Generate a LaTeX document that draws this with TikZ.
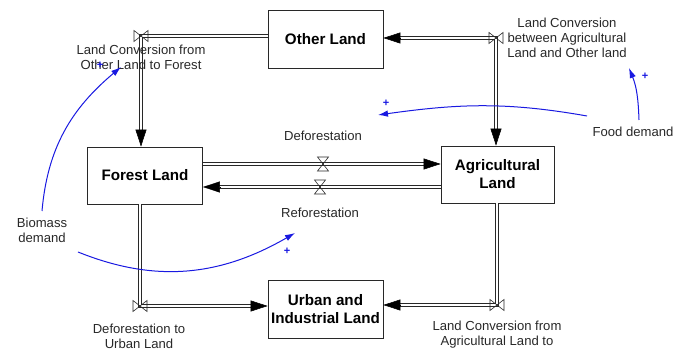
\documentclass[tikz,border=0pt]{standalone}
\usepackage{fontspec}
\setmainfont{Liberation Sans}
\usetikzlibrary{arrows.meta,calc}
\definecolor{cblue}{RGB}{25,25,225}
\definecolor{ink}{RGB}{40,40,40}
\newcommand\flowtip[2]{\draw[tipst] ($(#2)!17pt!(#1)$) -- (#2);}
\begin{document}
\begin{tikzpicture}[x=1pt,y=1pt,
  box/.style={draw=ink, line width=0.8pt, minimum width=115pt, minimum height=58pt, inner sep=0pt, align=center, font=\fontsize{15.2}{18}\selectfont\bfseries},
  lbl/.style={align=center, text=ink, inner sep=0pt, font=\fontsize{13.1}{15}\selectfont},
  pipe/.style={draw=ink, line width=0.65pt, double=white, double distance=2.6pt},
  tipst/.style={draw=black, fill=black, line width=0.5pt, -{Triangle[length=17pt,width=11pt]}},
  valvest/.style={draw=ink, line width=0.6pt},
  causal/.style={draw=cblue, line width=1pt, -{Latex[length=10pt,width=6.5pt]}},
  pol/.style={text=cblue, inner sep=0pt, font=\fontsize{11}{11}\selectfont\bfseries},
  bowtie/.pic={\draw[valvest] (-7,-5.5) -- (7,5.5) -- (7,-5.5) -- (-7,5.5) -- cycle;},
  hourglass/.pic={\draw[valvest] (-5.5,7) -- (5.5,7) -- (-5.5,-7) -- (5.5,-7) -- cycle;}
]
\useasboundingbox (0,0) rectangle (690,352);

% stocks
\node[box] (OL) at (325.5,313) {Other Land};
\node[box, minimum height=57pt] (FL) at (145,176.5) {Forest Land};
\node[box, minimum width=113pt, minimum height=57pt] (AL) at (497.5,177.5) {Agricultural\\Land};
\node[box] (UL) at (325.5,43) {Urban and\\Industrial Land};

% valves
\coordinate (vA) at (141,316);
\coordinate (vB) at (496,314);
\coordinate (vC) at (323,188);
\coordinate (vD) at (320,165);
\coordinate (vE) at (140,46);
\coordinate (vF) at (497,47);

% pipe end points
\coordinate (sA) at (vA -| OL.west);
\coordinate (tA) at (vA |- FL.north);
\coordinate (sB) at (vB -| OL.east);
\coordinate (tB) at (vB |- AL.north);
\coordinate (sC) at (vC -| FL.east);
\coordinate (tC) at (vC -| AL.west);
\coordinate (sD) at (vD -| AL.west);
\coordinate (tD) at (vD -| FL.east);
\coordinate (sE) at (vE |- FL.south);
\coordinate (tE) at (vE -| UL.west);
\coordinate (sF) at (vF |- AL.south);
\coordinate (tF) at (vF -| UL.east);

% pipes
\draw[pipe, shorten >=15pt] (sA) -- (vA) -- (tA);
\draw[pipe, shorten <=15pt, shorten >=15pt] (sB) -- (vB) -- (tB);
\draw[pipe, shorten >=15pt] (sC) -- (tC);
\draw[pipe, shorten >=15pt] (sD) -- (tD);
\draw[pipe, shorten >=15pt] (sE) -- (vE) -- (tE);
\draw[pipe, shorten >=15pt] (sF) -- (vF) -- (tF);

\flowtip{vA}{tA}
\flowtip{vB}{sB}
\flowtip{vB}{tB}
\flowtip{sC}{tC}
\flowtip{sD}{tD}
\flowtip{vE}{tE}
\flowtip{vF}{tF}

\pic at (vA) {bowtie};
\pic at (vB) {bowtie};
\pic at (vC) {hourglass};
\pic at (vD) {hourglass};
\pic at (vE) {bowtie};
\pic at (vF) {bowtie};

% flow labels
\node[lbl] (l1) at (141,295) {Land Conversion from\\Other Land to Forest};
\node[lbl] (l2) at (567,314) {Land Conversion\\between Agricultural\\Land and Other land};
\node[lbl] (l3) at (323,216) {Deforestation};
\node[lbl] (l4) at (320,139) {Reforestation};
\node[lbl] (l5) at (139,15.5) {Deforestation to\\Urban Land};
\node[lbl] (l6) at (497,17.5) {Land Conversion from\\Agricultural Land to};

% auxiliaries
\node[lbl] (bio) at (42,122) {Biomass\\demand};
\node[lbl] (food) at (633,220) {Food demand};

% causal links
\coordinate (a1s) at (42,141);
\coordinate (a1e) at (121,285);
\coordinate (a2s) at (78,100);
\coordinate (a2e) at (295,119);
\coordinate (a3s) at (587,236);
\coordinate (a3e) at (378,237);
\coordinate (a4s) at (639,232);
\coordinate (a4e) at (629,284);

\draw[causal] (a1s) to[out=85,in=220] (a1e);
\draw[causal] (a2s) to[out=-22,in=210] (a2e);
\draw[causal] (a3s) to[out=170,in=8] (a3e);
\draw[causal] (a4s) to[out=92,in=-68] (a4e);

\node[pol] (p1) at (100,287) {+};
\node[pol] (p2) at (287,101) {+};
\node[pol] (p3) at (386,249) {+};
\node[pol] (p4) at (645,276) {+};
\end{tikzpicture}
\end{document}
